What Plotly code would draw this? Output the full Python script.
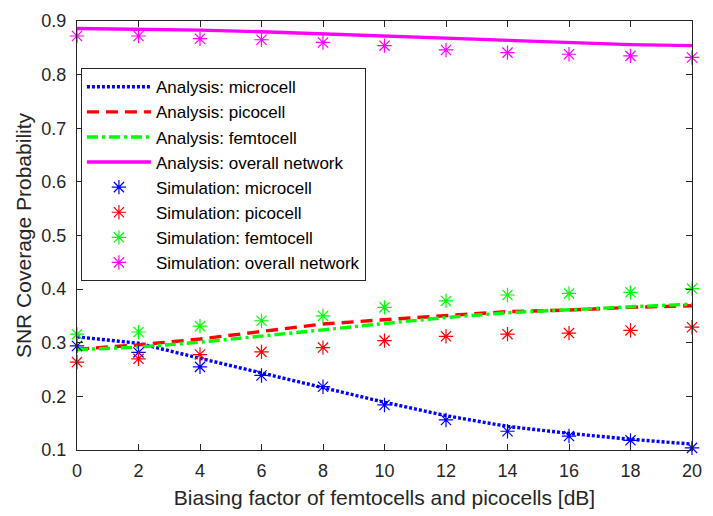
import plotly.graph_objects as go

bias_db = [0, 2, 4, 6, 8, 10, 12, 14, 16, 18, 20]

ana_micro = [0.311, 0.299, 0.271, 0.244, 0.217, 0.189, 0.164, 0.144, 0.131, 0.120, 0.111]
ana_pico = [0.288, 0.296, 0.307, 0.321, 0.335, 0.343, 0.351, 0.358, 0.361, 0.366, 0.369]
ana_femto = [0.287, 0.292, 0.301, 0.312, 0.324, 0.336, 0.347, 0.356, 0.362, 0.367, 0.372]
ana_overall = [0.886, 0.885, 0.883, 0.880, 0.876, 0.872, 0.867, 0.863, 0.859, 0.856, 0.854]

sim_micro = [0.294, 0.282, 0.255, 0.239, 0.218, 0.184, 0.156, 0.135, 0.126, 0.118, 0.104]
sim_pico = [0.264, 0.270, 0.278, 0.283, 0.291, 0.304, 0.312, 0.316, 0.318, 0.323, 0.329]
sim_femto = [0.316, 0.320, 0.331, 0.341, 0.350, 0.366, 0.378, 0.389, 0.392, 0.394, 0.401]
sim_overall = [0.872, 0.872, 0.867, 0.865, 0.860, 0.854, 0.846, 0.841, 0.838, 0.835, 0.832]

x_ticks = [0, 2, 4, 6, 8, 10, 12, 14, 16, 18, 20]
y_ticks = [0.1, 0.2, 0.3, 0.4, 0.5, 0.6, 0.7, 0.8, 0.9]

FONT = "Liberation Sans"
AX = "#262626"

fig = go.Figure()

lines = [
    ("Analysis: microcell", ana_micro, "#0000FF", "3px,2px"),
    ("Analysis: picocell", ana_pico, "#FF0000", "12px,7px"),
    ("Analysis: femtocell", ana_femto, "#00FF00", "11px,4px,3px,4px"),
    ("Analysis: overall network", ana_overall, "#FF00FF", "solid"),
]
for name, ys, col, dash in lines:
    fig.add_trace(go.Scatter(x=bias_db, y=ys, mode="lines", name=name,
                             line=dict(color=col, width=3.4, dash=dash)))

sims = [
    ("Simulation: microcell", sim_micro, "#0000FF"),
    ("Simulation: picocell", sim_pico, "#FF0000"),
    ("Simulation: femtocell", sim_femto, "#00FF00"),
    ("Simulation: overall network", sim_overall, "#FF00FF"),
]
for name, ys, col in sims:
    fig.add_trace(go.Scatter(x=bias_db, y=ys, mode="markers", name=name,
                             marker=dict(symbol="asterisk-open", size=12, color=col,
                                         line=dict(color=col, width=1.2)),
                             cliponaxis=False))

fig.update_layout(
    width=713, height=516,
    margin=dict(l=77, r=11, t=15, b=66),
    paper_bgcolor="white", plot_bgcolor="white",
    font=dict(family=FONT, size=18, color=AX),
    showlegend=True,
    legend=dict(x=0.0064, y=0.89, xanchor="left", yanchor="top",
                bgcolor="white", bordercolor=AX, borderwidth=1,
                font=dict(family=FONT, size=17, color="black"),
                itemwidth=64, tracegroupgap=0),
    xaxis=dict(range=[0, 20], tickvals=x_ticks, ticktext=[str(v) for v in x_ticks],
               showline=True, linecolor=AX, linewidth=1, mirror="ticks",
               ticks="inside", ticklen=6, tickcolor=AX, showgrid=False, zeroline=False,
               tickfont=dict(size=18, color=AX), ticklabelstandoff=4,
               title=dict(text="Biasing factor of femtocells and picocells [dB]",
                          font=dict(size=21, color=AX), standoff=10)),
    yaxis=dict(range=[0.1, 0.9], tickvals=y_ticks, ticktext=[f"{v:.1f}" for v in y_ticks],
               showline=True, linecolor=AX, linewidth=1, mirror="ticks",
               ticks="inside", ticklen=6, tickcolor=AX, showgrid=False, zeroline=False,
               tickfont=dict(size=18, color=AX), ticklabelstandoff=6,
               title=dict(text="SNR Coverage Probability",
                          font=dict(size=21, color=AX), standoff=4)),
)

fig.write_html("out.html")
